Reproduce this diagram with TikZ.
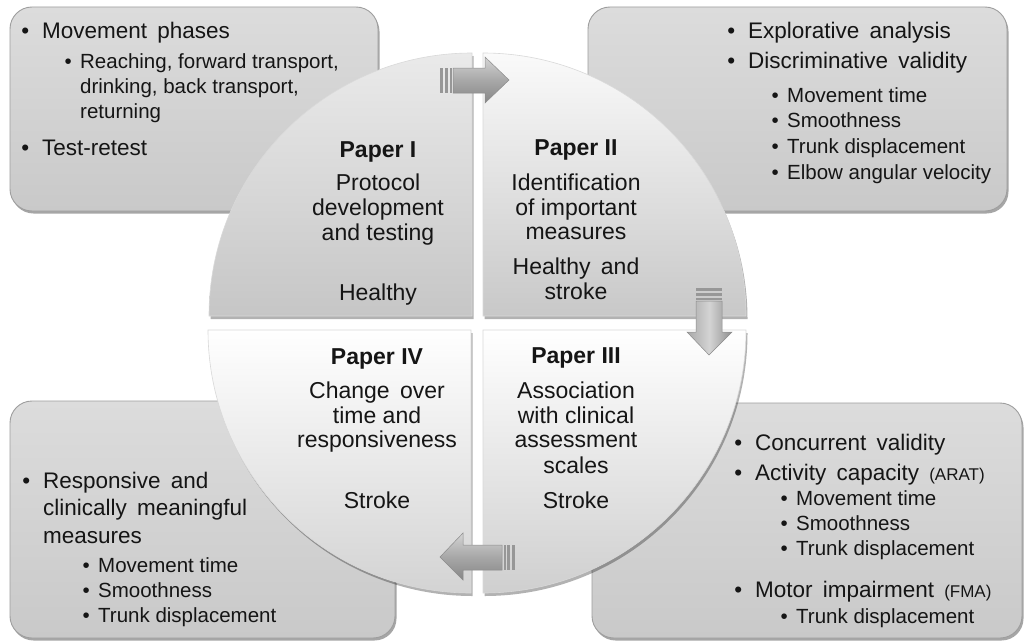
\documentclass[tikz,border=0pt]{standalone}
\usepackage{fontspec}
\setmainfont{Liberation Sans}
\usetikzlibrary{shadows}
\definecolor{boxtop}{HTML}{DCDCDC}
\definecolor{boxbot}{HTML}{C9C9C9}
\definecolor{boxline}{HTML}{9E9E9E}
\definecolor{qonetop}{HTML}{EAEAEA}
\definecolor{qonebot}{HTML}{C6C6C6}
\definecolor{qtwotop}{HTML}{FAFAFA}
\definecolor{qtwobot}{HTML}{C8C8C8}
\definecolor{qthrbot}{HTML}{CFCFCF}
\definecolor{qfoubot}{HTML}{D3D3D3}
\definecolor{arrA}{HTML}{D4D4D4}
\definecolor{arrB}{HTML}{A8A8A8}
\definecolor{arrline}{HTML}{8C8C8C}
\definecolor{txt}{HTML}{151515}
\newcommand{\bm}{\makebox[0pt][r]{•\hspace{13pt}}}
\newcommand{\bs}{\makebox[0pt][r]{•\hspace{8.5pt}}}
\newcommand{\wsp}{\hspace{0.45em}}
\begin{document}
\begin{tikzpicture}[x=1pt,y=-1pt,
  infobox/.style={rounded corners=22pt, draw=boxline, line width=0.9pt,
    top color=boxtop, bottom color=boxbot,
    drop shadow={shadow xshift=1.5pt,shadow yshift=-2.5pt,opacity=0.35,fill=black}},
  quad/.style={draw=gray!30, line width=0.6pt,
    drop shadow={shadow xshift=1.5pt,shadow yshift=-3pt,opacity=0.3,fill=black}},
  harrow/.style={draw=arrline, line width=0.5pt, top color=arrA, bottom color=arrB!80!black, middle color=arrB},
  varrow/.style={draw=arrline, line width=0.5pt, left color=arrB, right color=arrB!85!black, middle color=arrA},
  stripe/.style={fill=arrB!90!black},
  mainl/.style={anchor=base west, inner sep=0pt, text=txt, font=\fontsize{22.5}{27}\selectfont},
  subl/.style={anchor=base west, inner sep=0pt, text=txt, font=\fontsize{20.5}{25}\selectfont},
  ptext/.style={anchor=base, inner sep=0pt, text=txt, font=\fontsize{23}{26}\selectfont},
  ptitle/.style={anchor=base, inner sep=0pt, text=txt, font=\fontsize{23}{26}\selectfont\bfseries}
]
\useasboundingbox (0,0) rectangle (1027,642);
\fill[white] (0,0) rectangle (1027,642);

% information boxes
\path[infobox] (10,7) rectangle (378,211);
\path[infobox] (588,7) rectangle (1007,211);
\path[infobox] (10,401) rectangle (395,638);
\path[infobox] (592,403) rectangle (1022,638);

% quadrants
\path[quad, top color=qonetop, bottom color=qonebot]
  (472,316) -- (209,316) arc[start angle=180,end angle=270,radius=263] -- cycle;
\path[quad, top color=qtwotop, bottom color=qtwobot]
  (483,316) -- (483,53) arc[start angle=270,end angle=360,radius=263] -- cycle;
\path[quad, top color=white, middle color=white, bottom color=qthrbot]
  (483,330) -- (746,330) arc[start angle=0,end angle=90,radius=263] -- cycle;
\path[quad, top color=white, middle color=white, bottom color=qfoubot]
  (471,330) -- (471,593) arc[start angle=90,end angle=180,radius=263] -- cycle;

% block arrows
\path[harrow] (453,68) -- (485,68) -- (485,57) -- (509,80) -- (485,103) -- (485,93) -- (453,93) -- cycle;
\fill[stripe] (440,68) rectangle (443,93);
\fill[stripe] (445,68) rectangle (448,93);
\fill[stripe] (449.5,68) rectangle (451.5,93);

\path[varrow] (696,301) -- (696,332) -- (687,332) -- (709,355) -- (732,332) -- (722,332) -- (722,301) -- cycle;
\fill[stripe] (696,288) rectangle (722,291);
\fill[stripe] (696,293) rectangle (722,296);
\fill[stripe] (696,297.5) rectangle (722,299.5);

\path[harrow] (502,545) -- (463,545) -- (463,533) -- (440,557) -- (463,580) -- (463,570) -- (502,570) -- cycle;
\fill[stripe] (503.5,545) rectangle (505.5,570);
\fill[stripe] (507,545) rectangle (510,570);
\fill[stripe] (512,545) rectangle (515,570);

% top-left box text
\node[mainl] (tl1) at (42,38) {\bm Movement\wsp phases};
\node[subl] (tl2) at (80,68) {\bs Reaching, forward transport,};
\node[subl] (tl3) at (80,93) {drinking, back transport,};
\node[subl] (tl4) at (80,118) {returning};
\node[mainl] (tl5) at (42,155) {\bm Test-retest};

% top-right box text
\node[mainl] (tr1) at (748,38) {\bm Explorative\wsp analysis};
\node[mainl] (tr2) at (748,68) {\bm Discriminative\wsp validity};
\node[subl] (tr3) at (787,102) {\bs Movement time};
\node[subl] (tr4) at (787,127) {\bs Smoothness};
\node[subl] (tr5) at (787,153) {\bs Trunk displacement};
\node[subl] (tr6) at (787,179) {\bs Elbow angular velocity};

% bottom-left box text
\node[mainl] (bl1) at (43,488) {\bm Responsive\wsp and};
\node[mainl] (bl2) at (43,515) {clinically\wsp meaningful};
\node[mainl] (bl3) at (43,543) {measures};
\node[subl] (bl4) at (98,572) {\bs Movement time};
\node[subl] (bl5) at (98,597) {\bs Smoothness};
\node[subl] (bl6) at (98,622) {\bs Trunk displacement};

% bottom-right box text
\node[mainl] (br1) at (755,450) {\bm Concurrent\wsp validity};
\node[mainl] (br2) at (755,480) {\bm Activity\wsp capacity\wsp{\fontsize{17}{20}\selectfont (ARAT)}};
\node[subl] (br3) at (796,505) {\bs Movement time};
\node[subl] (br4) at (796,530) {\bs Smoothness};
\node[subl] (br5) at (796,555) {\bs Trunk displacement};
\node[mainl] (br6) at (755,597) {\bm Motor\wsp impairment\wsp{\fontsize{17}{20}\selectfont (FMA)}};
\node[subl] (br7) at (796,623) {\bs Trunk displacement};

% Paper I
\node[ptitle] (p1t) at (378,157) {Paper I};
\node[ptext] (p1a) at (378,190) {Protocol};
\node[ptext] (p1b) at (378,215) {development};
\node[ptext] (p1c) at (378,240) {and testing};
\node[ptext] (p1d) at (378,300) {Healthy};

% Paper II
\node[ptitle] (p2t) at (576,155) {Paper II};
\node[ptext] (p2a) at (576,190) {Identification};
\node[ptext] (p2b) at (576,215) {of important};
\node[ptext] (p2c) at (576,239) {measures};
\node[ptext] (p2d) at (576,274) {Healthy\wsp and};
\node[ptext] (p2e) at (576,299) {stroke};

% Paper III
\node[ptitle] (p3t) at (576,363) {Paper III};
\node[ptext] (p3a) at (576,398) {Association};
\node[ptext] (p3b) at (576,423) {with clinical};
\node[ptext] (p3c) at (576,447) {assessment};
\node[ptext] (p3d) at (576,473) {scales};
\node[ptext] (p3e) at (576,508) {Stroke};

% Paper IV
\node[ptitle] (p4t) at (377,364) {Paper IV};
\node[ptext] (p4a) at (377,398) {Change\wsp over};
\node[ptext] (p4b) at (377,423) {time and};
\node[ptext] (p4c) at (377,447) {responsiveness};
\node[ptext] (p4d) at (377,508) {Stroke};
\end{tikzpicture}
\end{document}
